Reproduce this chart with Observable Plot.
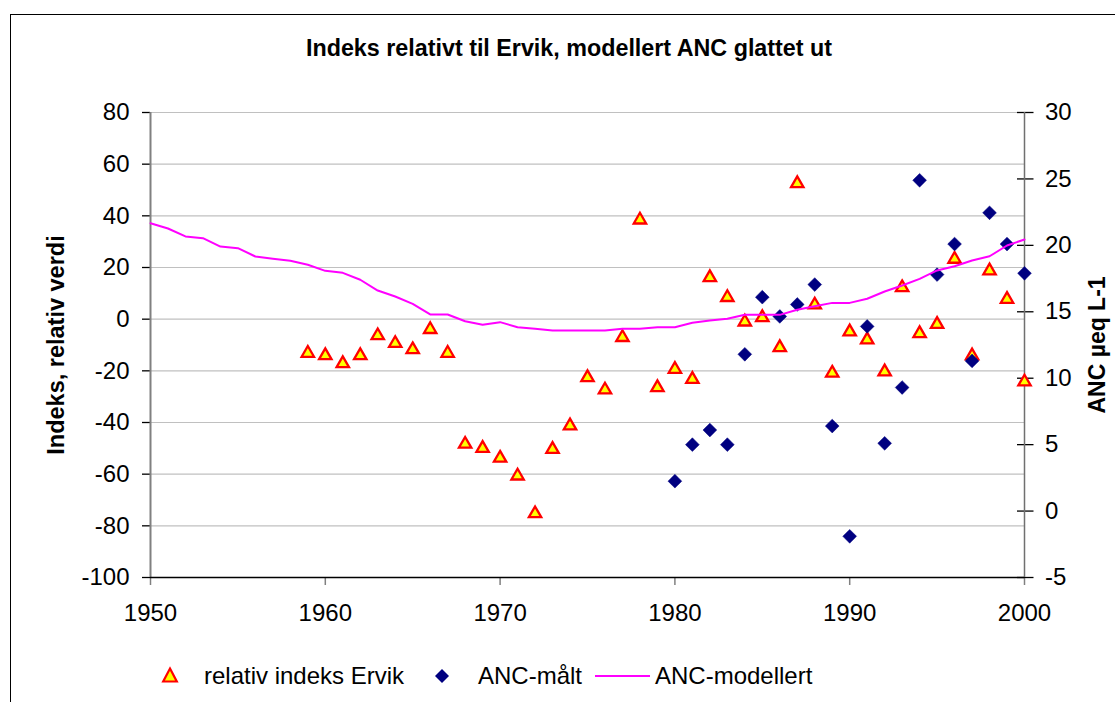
<!DOCTYPE html>
<html>
<head>
<meta charset="utf-8">
<script src="https://cdn.jsdelivr.net/npm/d3@7"></script>
<script src="https://cdn.jsdelivr.net/npm/@observablehq/plot@0.6"></script>
<style>
  body { margin: 0; background: #fff; }
  #page { position: relative; width: 1115px; height: 702px; overflow: hidden; background: #fff;
          font-family: "Liberation Sans", Arial, sans-serif; color: #000; }
  #frame { position: absolute; left: 10px; top: 14px; width: 1200px; height: 800px;
           border-top: 1.5px solid #000; border-left: 1.5px solid #000; }
  #title { position: absolute; top: 36px; left: 569px; transform: translateX(-50%);
           font-weight: bold; font-size: 23.3px; white-space: nowrap; line-height: 24px; }
  #chart { position: absolute; top: 90px; left: 0; }
  #legend { position: absolute; top: 660px; left: 0; width: 1115px; height: 32px; font-size: 24px; }
  .li { position: absolute; top: 0; line-height: 32px; white-space: nowrap; }
</style>
</head>
<body>
<div id="page">
  <div id="frame"></div>
  <div id="title">Indeks relativt til Ervik, modellert ANC glattet ut</div>
  <div id="chart"></div>
  <div id="legend"></div>
</div>
<script>
// ---- data ----
const seriesNames = ["relativ indeks Ervik", "ANC-målt", "ANC-modellert"];

const relYears = [1959,1960,1961,1962,1963,1964,1965,1966,1967,1968,1969,1970,1971,1972,1973,1974,1975,1976,1977,1978,1979,1980,1981,1982,1983,1984,1985,1986,1987,1988,1989,1990,1991,1992,1993,1994,1995,1996,1997,1998,1999,2000];
const relValues = [-12.4,-13.3,-16.4,-13.3,-5.6,-8.6,-11.0,-3.2,-12.4,-47.6,-49.2,-53.0,-59.9,-74.5,-49.6,-40.5,-21.8,-26.6,-6.3,39.2,-25.7,-18.6,-22.5,16.9,9.2,-0.3,1.4,-10.2,53.3,6.3,-20.1,-4.1,-7.2,-19.6,13.0,-4.8,-1.2,24.0,-13.4,19.5,8.5,-23.5];

const ancYears = [1980,1981,1982,1983,1984,1985,1986,1987,1988,1989,1990,1991,1992,1993,1994,1995,1996,1997,1998,1999,2000];
const ancValues = [2.25,5.0,6.1,5.0,11.8,16.1,14.65,15.55,17.05,6.4,-1.9,13.9,5.1,9.3,24.9,17.8,20.1,11.3,22.45,20.1,17.9];

const modYears = [1950,1951,1952,1953,1954,1955,1956,1957,1958,1959,1960,1961,1962,1963,1964,1965,1966,1967,1968,1969,1970,1971,1972,1973,1974,1975,1976,1977,1978,1979,1980,1981,1982,1983,1984,1985,1986,1987,1988,1989,1990,1991,1992,1993,1994,1995,1996,1997,1998,1999,2000];
const modValues = [21.67,21.27,20.67,20.54,19.91,19.79,19.16,18.99,18.84,18.54,18.08,17.93,17.41,16.60,16.15,15.60,14.80,14.80,14.29,14.02,14.22,13.84,13.72,13.59,13.59,13.59,13.59,13.72,13.72,13.84,13.84,14.17,14.34,14.47,14.77,14.77,14.77,15.15,15.42,15.67,15.67,15.98,16.53,16.98,17.48,18.11,18.43,18.86,19.18,19.99,20.44];

const xDomain = [1950, 2000];
const xTicks = [1950, 1960, 1970, 1980, 1990, 2000];
const leftDomain = [-100, 80];
const leftTicks = [-100, -80, -60, -40, -20, 0, 20, 40, 60, 80];
const rightDomain = [-5, 30];
const rightTicks = [-5, 0, 5, 10, 15, 20, 25, 30];
const leftLabel = "Indeks, relativ verdi";
const rightLabel = "ANC µeq L-1";

// ---- secondary axis mapping ----
const k = (leftDomain[1] - leftDomain[0]) / (rightDomain[1] - rightDomain[0]);
const toLeft = r => (r - rightDomain[0]) * k + leftDomain[0];
const fromLeft = l => (l - leftDomain[0]) / k + rightDomain[0];

const rel = relYears.map((y, i) => ({year: y, v: relValues[i]}));
const anc = ancYears.map((y, i) => ({year: y, v: toLeft(ancValues[i])}));
const mod = modYears.map((y, i) => ({year: y, v: toLeft(modValues[i])}));

const chart = Plot.plot({
  width: 1115,
  height: 540,
  marginLeft: 150,
  marginRight: 91,
  marginTop: 22,
  marginBottom: 53,
  style: {fontFamily: "'Liberation Sans', Arial, sans-serif", fontSize: "24px", color: "#000", background: "transparent"},
  x: {domain: xDomain},
  y: {domain: leftDomain},
  marks: [
    Plot.gridY(leftTicks, {stroke: "#c0c0c0", strokeOpacity: 1, strokeWidth: 1.2}),
    Plot.axisX(xTicks, {tickFormat: d => String(d), tickSize: 8, tickPadding: 18, stroke: "#808080", strokeWidth: 1.5, fontSize: 24, label: null}),
    Plot.axisY(leftTicks, {anchor: "left", tickSize: 8, tickPadding: 13, strokeWidth: 1.3, fontSize: 24,
      tickFormat: d => String(d), label: null}),
    Plot.axisY(rightTicks.map(toLeft), {anchor: "right", dx: -8, tickSize: 16.5, tickPadding: 12, strokeWidth: 1.3, fontSize: 24,
      tickFormat: d => String(Math.round(fromLeft(d))), label: null}),
    Plot.ruleX([xDomain[0]], {stroke: "#808080", strokeWidth: 2}),
    Plot.ruleX([xDomain[1]], {stroke: "#707070", strokeWidth: 1.5}),
    Plot.ruleY([leftDomain[0]], {stroke: "#000", strokeWidth: 1.5}),
    Plot.dot(rel, {x: "year", y: "v", symbol: "triangle", r: 4.6, fill: "#ffff00", stroke: "#ff0000", strokeWidth: 2.3, dy: 2}),
    Plot.dot(anc, {x: "year", y: "v", symbol: "diamond2", r: 6.2, fill: "#000080", stroke: "#000080", strokeWidth: 0.5}),
    Plot.line(mod, {x: "year", y: "v", stroke: "#ff00ff", strokeWidth: 2}),
    Plot.text([leftLabel], {frameAnchor: "left", dx: -94, rotate: -90, textAnchor: "middle", fontWeight: "bold", fontSize: 23.5}),
    Plot.text([rightLabel], {frameAnchor: "right", dx: 73, rotate: -90, textAnchor: "middle", fontWeight: "bold", fontSize: 23})
  ]
});
document.getElementById("chart").appendChild(chart);

// ---- legend ----
const legend = document.getElementById("legend");
const items = [
  {name: seriesNames[0], swatch: `<svg width="20" height="20" style="position:absolute;left:160px;top:6px"><path d="M10,2.5 L16.8,15.5 L3.2,15.5 Z" fill="#ffff00" stroke="#ff0000" stroke-width="2.2"/></svg>`, textLeft: 204},
  {name: seriesNames[1], swatch: `<svg width="20" height="20" style="position:absolute;left:432px;top:6px"><path d="M10,3 L17,10 L10,17 L3,10 Z" fill="#000080"/></svg>`, textLeft: 478},
  {name: seriesNames[2], swatch: `<svg width="56" height="20" style="position:absolute;left:595px;top:6px"><line x1="0" y1="10" x2="55" y2="10" stroke="#ff00ff" stroke-width="2"/></svg>`, textLeft: 655}
];
legend.innerHTML = items.map(it => it.swatch + `<span class="li" style="left:${it.textLeft}px">${it.name}</span>`).join("");
</script>
</body>
</html>
